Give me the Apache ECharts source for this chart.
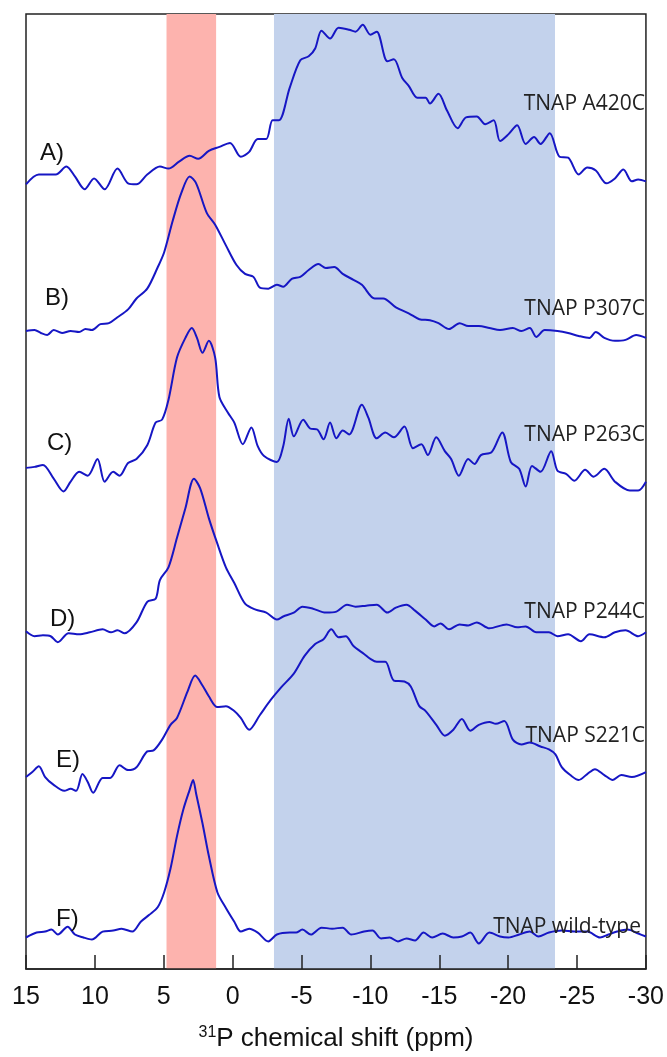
<!DOCTYPE html>
<html>
<head>
<meta charset="utf-8">
<script src="https://cdn.jsdelivr.net/npm/echarts@6/dist/echarts.min.js"></script>
<style>
  html, body { margin: 0; padding: 0; background: #fff; }
  #spectra { width: 667px; height: 1057px; }
</style>
</head>
<body>
<div id="spectra"></div>
<script>
// 31P spectra, [ppm, intensity], each relative to its own baseline
var traceA = [[15.0,-3],[14.07,7],[12.84,7],[12.07,15],[11.45,5],[10.74,-8],[10.06,3],[9.29,-8],[8.36,13],[7.59,-2],[6.98,-3],[6.20,7],[5.28,15],[4.66,13],[3.89,20],[3.12,26],[2.50,23],[1.73,31],[0.96,35],[0.19,39],[-0.59,25],[-1.20,30],[-1.82,43],[-2.44,43],[-2.90,62],[-3.36,62],[-4.14,95],[-4.91,123],[-5.52,127],[-5.99,135],[-6.45,153],[-7.07,145],[-7.69,156],[-8.46,154],[-8.92,152],[-9.44,159],[-10.0,149],[-10.46,152],[-11.23,122],[-11.70,124],[-12.31,105],[-12.78,97],[-13.40,85],[-14.01,85],[-14.32,79],[-14.94,89],[-15.56,72],[-16.33,54],[-16.94,65],[-17.72,66],[-18.33,58],[-18.95,62],[-19.41,41],[-20.03,48],[-20.65,57],[-21.27,38],[-21.88,45],[-22.35,38],[-23.02,49],[-23.73,25],[-24.35,24],[-25.12,7],[-25.74,14],[-26.36,11],[-27.13,-2],[-27.75,3],[-28.36,12],[-28.98,0],[-29.44,2],[-30.0,0]];
var traceB = [[15.0,0],[14.38,1],[13.92,-2],[13.46,-4],[12.99,1],[12.38,-2],[11.76,0],[11.14,-1],[10.68,2],[10.22,1],[9.60,7],[8.98,8],[8.36,14],[7.59,22],[6.98,33],[6.20,43],[5.43,65],[4.97,80],[4.35,112],[3.73,140],[3.12,157],[2.65,150],[1.88,120],[1.27,108],[0.49,87],[-0.28,67],[-0.90,58],[-1.51,55],[-1.98,44],[-2.59,43],[-3.21,47],[-3.67,45],[-4.29,53],[-4.91,55],[-5.52,62],[-6.23,68],[-6.76,64],[-7.38,65],[-7.99,58],[-8.77,52],[-9.38,47],[-10.31,33],[-10.93,33],[-11.85,24],[-12.78,18],[-13.55,12],[-14.32,11],[-14.94,8],[-15.71,2],[-16.48,8],[-17.10,5],[-17.87,5],[-18.64,3],[-19.41,1],[-20.34,3],[-20.96,0],[-21.57,3],[-22.04,-6],[-22.65,1],[-23.58,0],[-24.35,-2],[-25.12,-5],[-25.90,-7],[-26.36,-1],[-26.98,-7],[-27.75,-10],[-28.52,-9],[-29.29,-4],[-30.0,-7]];
var traceC = [[15.0,1],[14.38,2],[13.77,4],[12.99,-10],[12.28,-23],[11.76,-13],[11.14,-3],[10.52,-7],[9.81,10],[9.29,-13],[8.67,-3],[8.21,-7],[7.59,6],[6.98,10],[6.20,24],[5.59,47],[5.12,50],[4.66,70],[4.04,113],[3.43,133],[2.96,143],[2.59,133],[2.19,118],[1.73,130],[1.27,113],[0.96,73],[0.34,57],[-0.12,47],[-0.74,25],[-1.36,42],[-1.82,23],[-2.28,13],[-3.21,7],[-3.67,23],[-4.07,51],[-4.44,33],[-5.12,50],[-5.62,41],[-6.14,40],[-6.60,30],[-7.07,47],[-7.53,31],[-7.99,39],[-8.46,35],[-9.38,65],[-9.85,52],[-10.46,31],[-11.08,37],[-11.70,32],[-12.47,43],[-13.09,21],[-13.70,25],[-14.17,14],[-14.78,32],[-15.40,18],[-15.86,10],[-16.42,-7],[-17.10,10],[-17.56,5],[-18.02,14],[-18.80,17],[-19.57,37],[-20.19,7],[-20.80,0],[-21.27,-18],[-21.73,3],[-22.35,-3],[-23.12,18],[-23.58,-2],[-24.20,-5],[-24.81,-12],[-25.59,-1],[-26.20,-8],[-26.98,0],[-27.75,-13],[-28.83,-22],[-29.44,-22],[-30.0,-13]];
var traceD = [[15.0,0],[14.38,-5],[13.77,-4],[13.21,-5],[12.69,-11],[11.91,-2],[11.14,-3],[10.37,-1],[9.44,2],[8.83,-1],[8.36,1],[7.84,-2],[6.98,9],[6.20,30],[5.59,33],[5.28,52],[4.66,65],[4.04,95],[3.43,125],[2.81,155],[2.35,145],[1.73,115],[1.11,89],[0.49,65],[-0.12,49],[-0.90,28],[-1.67,22],[-2.44,19],[-3.21,12],[-3.67,15],[-4.44,19],[-5.06,25],[-5.83,23],[-6.76,19],[-7.53,20],[-8.30,27],[-8.92,25],[-9.69,26],[-10.46,27],[-11.23,19],[-11.85,24],[-12.62,27],[-13.24,21],[-14.01,12],[-14.63,5],[-15.09,8],[-15.71,2],[-16.48,7],[-17.10,6],[-17.72,9],[-18.64,3],[-19.88,7],[-20.65,4],[-21.27,5],[-22.04,-1],[-22.96,-1],[-23.58,-5],[-24.35,-3],[-25.28,-10],[-25.90,-3],[-26.98,-6],[-27.75,-1],[-28.52,1],[-29.44,-5],[-30.0,-1]];
var traceE = [[15.0,0],[14.54,5],[14.07,11],[13.61,0],[12.99,-8],[12.22,-14],[11.76,-12],[11.36,-14],[10.90,3],[10.52,-5],[10.12,-16],[9.44,-1],[8.89,-1],[8.21,12],[7.59,7],[6.98,10],[6.20,26],[5.74,27],[5.12,38],[4.51,53],[4.04,60],[3.27,87],[2.72,103],[2.19,93],[1.73,82],[1.11,71],[0.49,72],[-0.12,67],[-0.59,60],[-1.20,48],[-1.98,63],[-2.75,78],[-3.52,91],[-4.44,105],[-5.22,123],[-5.99,135],[-6.60,140],[-7.16,150],[-7.69,142],[-8.21,143],[-8.77,133],[-9.54,125],[-10.0,120],[-10.46,117],[-11.08,117],[-11.70,98],[-12.47,97],[-12.93,92],[-13.55,72],[-14.01,67],[-14.78,53],[-15.40,42],[-16.02,48],[-16.64,59],[-17.25,47],[-17.87,53],[-18.64,56],[-19.10,54],[-19.72,57],[-20.34,38],[-20.96,33],[-21.57,35],[-22.35,31],[-22.96,28],[-23.43,23],[-23.89,10],[-24.51,2],[-25.12,-3],[-25.74,3],[-26.30,8],[-26.98,2],[-27.59,-3],[-28.21,2],[-28.98,0],[-30.0,5]];
var traceF = [[15.0,-3],[14.23,2],[13.61,3],[13.15,5],[12.69,0],[11.98,8],[11.45,0],[10.83,-3],[10.22,-5],[9.44,3],[8.67,4],[8.06,6],[7.28,3],[6.67,13],[6.05,20],[5.43,28],[4.97,43],[4.51,67],[4.04,100],[3.58,127],[3.12,147],[2.87,157],[2.65,143],[2.19,113],[1.73,80],[1.11,43],[0.49,27],[-0.12,13],[-0.59,3],[-1.20,6],[-1.82,2],[-2.59,-7],[-3.21,0],[-4.14,2],[-4.60,2],[-5.06,5],[-5.68,0],[-6.45,7],[-7.22,6],[-7.99,7],[-8.61,0],[-9.54,3],[-10.15,4],[-10.77,-4],[-11.39,-3],[-12.0,-7],[-12.62,-4],[-13.24,-6],[-13.86,2],[-14.48,-3],[-15.25,1],[-16.02,-3],[-16.64,-2],[-17.25,2],[-17.87,-9],[-18.64,2],[-19.41,-2],[-20.03,-3],[-20.80,0],[-21.57,3],[-22.19,-2],[-22.96,2],[-23.89,4],[-24.81,3],[-25.74,3],[-26.67,-3],[-27.28,0],[-27.90,3],[-28.67,5],[-29.44,1],[-30.0,-2]];

var traces = [traceA, traceB, traceC, traceD, traceE, traceF];
var offsets = [800, 648, 508, 343, 195, 35];          // vertical stacking of the spectra
var letters = ['A)', 'B)', 'C)', 'D)', 'E)', 'F)'];
var names = ['TNAP A420C', 'TNAP P307C', 'TNAP P263C', 'TNAP P244C', 'TNAP S221C', 'TNAP wild-type'];
var xTicks = [15, 10, 5, 0, -5, -10, -15, -20, -25, -30];
var redBand = [4.8, 1.2];
var blueBand = [-3, -23.4];

var chart = echarts.init(document.getElementById('spectra'));

var series = traces.map(function (t, i) {
    var s = {
        name: names[i],
        type: 'line',
        data: t.map(function (p) { return [p[0], p[1] + offsets[i]]; }),
        smooth: 0.3,
        showSymbol: false,
        silent: true,
        z: 3,
        lineStyle: { color: '#1616c4', width: 2 }
    };
    if (i === 0) {
        s.markArea = {
            silent: true,
            data: [
                [{ xAxis: redBand[0], itemStyle: { color: '#fdb3ae' } }, { xAxis: redBand[1] }],
                [{ xAxis: blueBand[0], itemStyle: { color: '#c3d2ec' } }, { xAxis: blueBand[1] }]
            ]
        };
    }
    return s;
});

// label placement (px) for the letters on the left and the sample names on the right
var letterPos = [[40, 153], [45, 298], [47, 443], [50, 619], [56, 760], [56, 919]];
var namePos = [[645, 104], [645, 309], [645, 435], [645, 612], [645, 736], [641, 927]];
var graphic = [];
letters.forEach(function (l, i) {
    graphic.push({
        type: 'text', x: letterPos[i][0], y: letterPos[i][1], z: 10,
        style: { text: l, fill: '#111', font: '24px "Liberation Sans"', textAlign: 'left', textVerticalAlign: 'middle', align: 'left', verticalAlign: 'middle' }
    });
});
names.forEach(function (n, i) {
    graphic.push({
        type: 'text', x: namePos[i][0], y: namePos[i][1], z: 10,
        style: { text: n, fill: '#222', font: '21px "Open Sans"', textAlign: 'right', textVerticalAlign: 'middle', align: 'right', verticalAlign: 'middle' }
    });
});

var option = {
    animation: false,
    backgroundColor: '#fff',
    grid: {
        left: 26, right: 20, top: 14, bottom: 73,
        show: true, borderColor: '#222', borderWidth: 1.5, backgroundColor: 'transparent'
    },
    xAxis: {
        type: 'value',
        min: -30, max: 15, interval: 5,
        inverse: true,
        z: 10,
        name: '{sup|31}P chemical shift (ppm)',
        nameLocation: 'middle',
        nameGap: 56,
        nameTextStyle: {
            fontFamily: 'Liberation Sans', fontSize: 26, color: '#111',
            rich: { sup: { fontFamily: 'Liberation Sans', fontSize: 16, color: '#111', verticalAlign: 'top', padding: [0, 0, 12, 0] } }
        },
        axisLine: { show: true, lineStyle: { color: '#222', width: 1.5 } },
        axisTick: { show: true, inside: true, length: 14, lineStyle: { color: '#222', width: 1.5 } },
        splitLine: { show: false },
        axisLabel: {
            fontFamily: 'Liberation Sans', fontSize: 25, color: '#111', margin: 16,
            showMinLabel: true, showMaxLabel: true,
            formatter: function (v) { return xTicks.indexOf(v) >= 0 ? String(v) : ''; }
        }
    },
    yAxis: {
        type: 'value', min: 0, max: 970,
        show: false,
        splitLine: { show: false }
    },
    series: series,
    graphic: graphic
};

chart.setOption(option);
</script>
</body>
</html>
